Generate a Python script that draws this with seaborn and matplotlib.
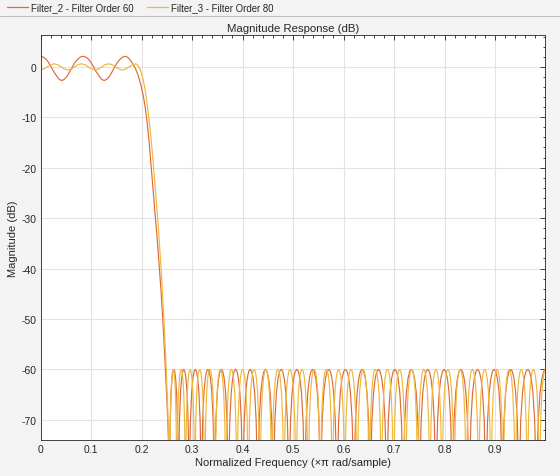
import pandas as pd
import matplotlib
matplotlib.use("Agg")
import matplotlib.pyplot as plt
import seaborn as sns
from matplotlib.lines import Line2D
from matplotlib.ticker import MultipleLocator

# Filter_2 (order 60): passband ripple + transition band
f60_pass = [0, .005, .011, .016, .021, .026, .032, .037, .042, .047, .053, .058, .063, .068, .074, .079,
            .084, .089, .095, .100, .105, .110, .116, .121, .126, .131, .137, .142, .147, .152, .158, .163,
            .168, .173, .178, .183, .188, .193, .198, .203, .207, .211, .215, .219, .224, .228, .232, .235,
            .2385, .2415, .2445, .247, .249, .251, .253, .254]
db60_pass = [2.08, 1.94, 1.52, 0.85, 0.0, -0.94, -1.84, -2.49, -2.73, -2.49, -1.84, -0.94, 0.0, 0.85, 1.52, 1.94,
             2.08, 1.94, 1.52, 0.85, 0.0, -0.94, -1.84, -2.49, -2.73, -2.49, -1.84, -0.94, 0.0, 0.85, 1.52, 1.94,
             2.08, 1.85, 1.3, 0.55, -0.35, -1.6, -3.3, -5.5, -7.8, -10.9, -14.8, -19.6, -25.6, -30.4, -35.3, -39.4,
             -44.2, -49.0, -54.3, -59.3, -63.2, -67.5, -73, -79]
# stopband nulls of Filter_2
f60_nulls = [0.255, 0.273, 0.2945, 0.3185, 0.3445, 0.372, 0.4005, 0.430, 0.461, 0.492, 0.523, 0.5545, 0.587,
             0.6205, 0.653, 0.6855, 0.718, 0.7505, 0.783, 0.8155, 0.849, 0.882, 0.9145, 0.9475, 0.982]

# Filter_3 (order 80)
f80_pass = [0, .0068, .0135, .0203, .027, .0338, .0405, .0473, .054, .0608, .0675, .0743, .081, .0878, .0945,
            .1013, .108, .1148, .1215, .1283, .135, .1418, .1485, .1553, .162, .1688, .1755, .1823, .189,
            .1925, .196, .2, .203, .206, .209, .212, .2155, .219, .2225, .226, .2295, .233, .236, .239, .2415,
            .244, .2465, .249, .2505, .252, .2535, .2545]
db80_pass = [-0.63, -0.44, 0, 0.42, 0.59, 0.42, 0, -0.44,
             -0.63, -0.44, 0, 0.42, 0.59, 0.42, 0, -0.44,
             -0.63, -0.44, 0, 0.42, 0.59, 0.42, 0, -0.44,
             -0.63, -0.44, 0, 0.42, 0.59,
             0.3, -0.3, -1.3, -2.4, -3.9, -5.8, -8.0, -11.0, -14.4, -18.2, -22.4, -26.8, -31.3, -35.8, -40.3,
             -44.7, -49.4, -54.6, -60, -64, -68, -73, -79]
f80_nulls = [0.2555, 0.270, 0.287, 0.3055, 0.325, 0.3455, 0.367, 0.389, 0.4115, 0.4345, 0.458, 0.482, 0.506,
             0.530, 0.554, 0.578, 0.6025, 0.627, 0.651, 0.675, 0.699, 0.723, 0.747, 0.771, 0.795, 0.819,
             0.843, 0.8675, 0.892, 0.916, 0.940, 0.964, 0.988]

stop_level = -60
# shape of one stopband lobe between two nulls (fraction of lobe width, dB relative to the -60 peak)
lobe_frac = [0.0, 0.04, 0.1, 0.2, 0.3, 0.4, 0.5, 0.6, 0.7, 0.8, 0.9, 0.96]
lobe_drop = [-40, -18, -10.2, -4.6, -1.8, -0.4, 0, -0.4, -1.8, -4.6, -10.2, -18]

names = ["Filter_2 - Filter Order 60", "Filter_3 - Filter Order 80"]
colors = ["#DE6A3A", "#EFB83A"]


def response(f_pass, db_pass, nulls):
    f = list(f_pass)
    d = list(db_pass)
    for a, b in zip(nulls[:-1], nulls[1:]):
        for t, drop in zip(lobe_frac, lobe_drop):
            f.append(a + t * (b - a))
            d.append(stop_level + drop)
    # half lobe up to the Nyquist end
    a = nulls[-1]
    w = 2 * (1.0 - a)
    for t, drop in zip(lobe_frac[:7], lobe_drop[:7]):
        f.append(a + t * w)
        d.append(stop_level + drop)
    return f, d


frames = []
for name, fp, dp, nl in [(names[0], f60_pass, db60_pass, f60_nulls),
                         (names[1], f80_pass, db80_pass, f80_nulls)]:
    f, d = response(fp, dp, nl)
    frames.append(pd.DataFrame({"freq": f, "mag": d, "filter": name}))
df = pd.concat(frames, ignore_index=True)

sns.set_style("white")
plt.rcParams["font.family"] = ["Liberation Sans", "DejaVu Sans"]
plt.rcParams["axes.unicode_minus"] = False

dark = "#262626"
fig = plt.figure(figsize=(5.6, 4.77), dpi=100, facecolor="#f3f3f3")
ax = fig.add_axes([40.5 / 560, 1 - 441 / 477, 504.5 / 560, 405 / 477])
ax.set_facecolor("white")

sns.lineplot(data=df, x="freq", y="mag", hue="filter", hue_order=names, palette=colors,
             sort=False, estimator=None, linewidth=0.85, legend=False, ax=ax)

ax.set_xlim(0, 0.999)
ax.set_ylim(-74.0, 6.3)
xticks = [0, 0.1, 0.2, 0.3, 0.4, 0.5, 0.6, 0.7, 0.8, 0.9]
xlabels = ["0", "0.1", "0.2", "0.3", "0.4", "0.5", "0.6", "0.7", "0.8", "0.9"]
yticks = [-70, -60, -50, -40, -30, -20, -10, 0]
ax.set_xticks(xticks, xlabels)
ax.set_yticks(yticks, [str(v) for v in yticks])
ax.xaxis.set_minor_locator(MultipleLocator(0.02))
ax.yaxis.set_minor_locator(MultipleLocator(2))
ax.tick_params(which="both", direction="in", top=True, right=True, colors=dark,
               labelsize=7.5, width=0.6)
ax.tick_params(which="major", length=3.5, pad=3)
ax.tick_params(which="minor", length=1.8)
ax.grid(True, which="major", color="#e3e3e3", linewidth=0.8)
ax.set_axisbelow(True)
for s in ax.spines.values():
    s.set_color(dark)
    s.set_linewidth(0.6)

ax.set_title("Magnitude Response (dB)", fontsize=8.2, color=dark, pad=3)
ax.set_xlabel("Normalized Frequency (\u00d7\u03c0 rad/sample)", fontsize=8, color=dark, labelpad=2)
ax.set_ylabel("Magnitude (dB)", fontsize=8, color=dark, labelpad=2)

handles = [Line2D([], [], color=c, linewidth=0.9) for c in colors]
fig.legend(handles, names, loc="upper left", bbox_to_anchor=(0.008, 1.0), ncol=2, frameon=False,
           fontsize=6.9, handlelength=2.2, handletextpad=0.25, columnspacing=1.45,
           borderaxespad=0.0, borderpad=0.3, labelcolor=dark)
fig.add_artist(Line2D([0, 1], [1 - 17 / 477] * 2, transform=fig.transFigure,
                      color="#bdbdbd", linewidth=0.8))

fig.savefig("out.png", dpi=100, facecolor=fig.get_facecolor())
